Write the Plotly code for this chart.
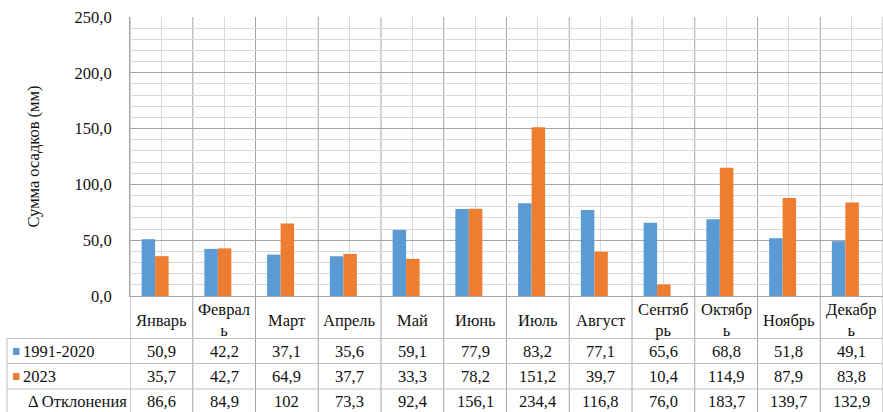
import plotly.graph_objects as go

months = ["Январь", "Февраль", "Март", "Апрель", "Май", "Июнь", "Июль",
          "Август", "Сентябрь", "Октябрь", "Ноябрь", "Декабрь"]
month_labels = ["Январь", "Феврал<br>ь", "Март", "Апрель", "Май", "Июнь", "Июль",
                "Август", "Сентяб<br>рь", "Октябр<br>ь", "Ноябрь", "Декабр<br>ь"]
norm_1991_2020 = [50.9, 42.2, 37.1, 35.6, 59.1, 77.9, 83.2, 77.1, 65.6, 68.8, 51.8, 49.1]
year_2023 = [35.7, 42.7, 64.9, 37.7, 33.3, 78.2, 151.2, 39.7, 10.4, 114.9, 87.9, 83.8]
deviation = ["86,6", "84,9", "102", "73,3", "92,4", "156,1", "234,4", "116,8",
             "76,0", "183,7", "139,7", "132,9"]

BLUE = "#5b9bd5"
ORANGE = "#ed7d31"
FONT = "Liberation Serif"
W, H = 883, 412
L, T, B = 130, 17, 116
PW = W - L
PH = H - T - B

def py(px_y):
    return (H - B - px_y) / PH

def pxx(px_x):
    return (px_x - L) / PW

idx = list(range(len(months)))

fig = go.Figure()
fig.add_trace(go.Bar(x=idx, y=norm_1991_2020, name="1991-2020", marker_color=BLUE,
                     offset=-0.315, width=0.215, marker_line_width=0))
fig.add_trace(go.Bar(x=idx, y=year_2023, name="2023", marker_color=ORANGE,
                     offset=-0.1, width=0.215, marker_line_width=0))

shapes = []
GRID_DARK = "#a6a6a6"
GRID_LIGHT = "#d9d9d9"
TABLE = "#bfbfbf"
for i in range(len(months) + 1):
    shapes.append(dict(type="line", xref="x", yref="paper", x0=i - 0.5, x1=i - 0.5,
                       y0=py(H + 5), y1=1, line=dict(color=GRID_DARK, width=1), layer="below"))
for yy in [338.5, 363.5, 389]:
    shapes.append(dict(type="line", xref="paper", yref="paper", x0=pxx(7), x1=1,
                       y0=py(yy), y1=py(yy), line=dict(color=TABLE, width=1)))
shapes.append(dict(type="line", xref="paper", yref="paper", x0=pxx(7), x1=pxx(7),
                   y0=py(338.5), y1=py(H + 5), line=dict(color=TABLE, width=1)))
for yc, col in [(351.5, BLUE), (376.5, ORANGE)]:
    shapes.append(dict(type="rect", xref="paper", yref="paper", x0=pxx(13), x1=pxx(19.5),
                       y0=py(yc + 3.5), y1=py(yc - 3.5), fillcolor=col, line=dict(width=0)))

ann = []
tf = dict(family=FONT, size=16.5, color="#111111")
for i in idx:
    ann.append(dict(x=i, y=py(320), xref="x", yref="paper", text=month_labels[i],
                    showarrow=False, font=tf, xanchor="center", yanchor="middle"))
    ann.append(dict(x=i, y=py(351), xref="x", yref="paper",
                    text=f"{norm_1991_2020[i]:.1f}".replace(".", ","),
                    showarrow=False, font=tf, xanchor="center", yanchor="middle"))
    ann.append(dict(x=i, y=py(376), xref="x", yref="paper",
                    text=f"{year_2023[i]:.1f}".replace(".", ","),
                    showarrow=False, font=tf, xanchor="center", yanchor="middle"))
    ann.append(dict(x=i, y=py(401), xref="x", yref="paper", text=deviation[i],
                    showarrow=False, font=tf, xanchor="center", yanchor="middle"))
for yc, txt, x0 in [(351, "1991-2020", 21), (376, "2023", 21), (401, "Δ Отклонения", 26)]:
    ann.append(dict(x=pxx(x0), y=py(yc), xref="paper", yref="paper", text=txt,
                    showarrow=False, font=tf, xanchor="left", yanchor="middle"))

fig.update_layout(
    width=W, height=H,
    margin=dict(l=L, r=0, t=T, b=B),
    paper_bgcolor="white", plot_bgcolor="white",
    separators=", ",
    barmode="overlay",
    showlegend=False,
    shapes=shapes,
    annotations=ann,
    font=dict(family=FONT, size=16, color="#111111"),
    xaxis=dict(range=[-0.5, 11.5], tickmode="linear", tick0=0, dtick=1,
               showticklabels=False, showgrid=True, gridcolor=GRID_LIGHT, gridwidth=1,
               zeroline=False, showline=True, linecolor=GRID_DARK, ticks=""),
    yaxis=dict(range=[0, 250], tickmode="linear", tick0=0, dtick=50, tickformat=".1f",
               showgrid=True, gridcolor=GRID_DARK, gridwidth=1, zeroline=False,
               showline=True, linecolor=GRID_DARK, ticks="", ticklabelstandoff=14,
               tickfont=dict(family=FONT, size=16.5, color="#111111"),
               minor=dict(dtick=10, showgrid=True, gridcolor=GRID_LIGHT, gridwidth=1),
               title=dict(text="Сумма осадков (мм)", standoff=30,
                          font=dict(family=FONT, size=16.5, color="#111111"))),
)

fig.write_html("out.html")
